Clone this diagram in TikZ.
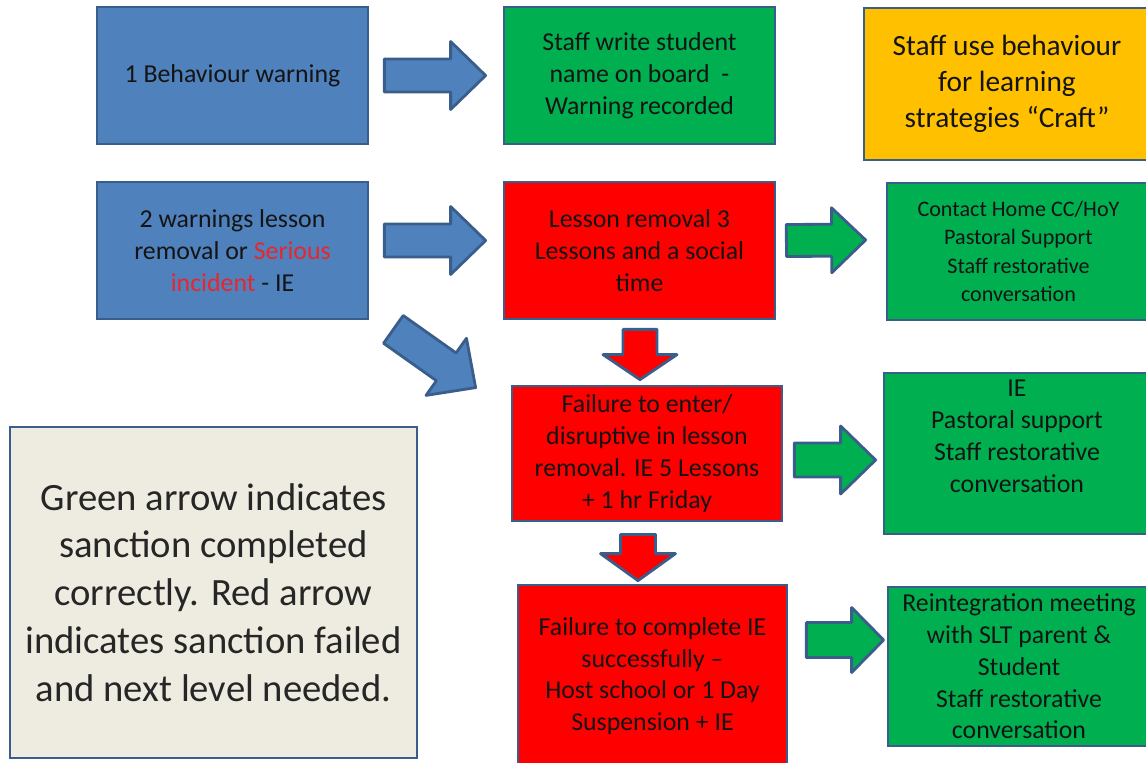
\documentclass[tikz,border=0pt]{standalone}
\usepackage{fontspec}
\setmainfont{Carlito}
\usetikzlibrary{calc}

\definecolor{edgeblue}{HTML}{3A5E8C}
\definecolor{fillblue}{HTML}{4F81BD}
\definecolor{fillgreen}{HTML}{00B050}
\definecolor{fillred}{HTML}{FF0000}
\definecolor{fillyellow}{HTML}{FFC000}
\definecolor{fillstone}{HTML}{EEECE1}
\definecolor{ink}{HTML}{141414}
\definecolor{alert}{HTML}{E8262C}

% block arrow: style, tail, tip, half shaft, half head, head length
\newcommand{\blockarrow}[6]{%
  \coordinate (hb) at ($(#3)!#6!(#2)$);
  \draw[#1] ($(#2)!#4!90:(#3)$) -- ($(hb)!#4!90:(#3)$) -- ($(hb)!#5!90:(#3)$) -- (#3)
    -- ($(hb)!#5!-90:(#3)$) -- ($(hb)!#4!-90:(#3)$) -- ($(#2)!#4!-90:(#3)$) -- cycle;
}

\begin{document}
\begin{tikzpicture}[x=0.02cm, y=-0.02cm,
  box/.style={draw=edgeblue, line width=1.6pt, align=center, inner sep=1pt, text=ink,
    font=\fontsize{14.7}{18.1}\selectfont},
  bluebox/.style={box, fill=fillblue},
  greenbox/.style={box, fill=fillgreen},
  redbox/.style={box, fill=fillred},
  arr/.style={draw=edgeblue, line width=1.6pt, line join=round}]
\useasboundingbox (0,0) rectangle (1146,762);

\node[bluebox, minimum width=5.42cm, minimum height=2.74cm] (warn1) at (232.5,75.5) {1 Behaviour warning};
\node[greenbox, minimum width=5.42cm, minimum height=2.74cm] (board) at (639.5,75.5) {Staff write student\\name on board\ \ -\\Warning recorded};
\node[box, fill=fillyellow, minimum width=5.72cm, minimum height=3.04cm,
  font=\fontsize{16.7}{20.4}\selectfont] (craft) at (1007,84) {Staff use behaviour\\for learning\\strategies “Craft”};

\node[bluebox, minimum width=5.42cm, minimum height=2.74cm] (warn2) at (232.5,250.5) {2 warnings lesson\\removal or \textcolor{alert}{Serious}\\\textcolor{alert}{incident} - IE};
\node[redbox, minimum width=5.42cm, minimum height=2.74cm] (removal) at (639.5,250.5) {Lesson removal 3\\Lessons and a social\\time};
\node[greenbox, minimum width=5.26cm, minimum height=2.74cm,
  font=\fontsize{12.6}{16.2}\selectfont] (contact) at (1018.5,251.5) {Contact Home CC/HoY\\Pastoral Support\\Staff restorative\\conversation};

\node[redbox, minimum width=5.4cm, minimum height=2.7cm] (enter) at (647,453.5) {Failure to enter/\\disruptive in lesson\\removal. IE 5 Lessons\\+ 1 hr Friday};
\node[greenbox, minimum width=5.32cm, minimum height=3.22cm, text depth=0.7cm] (support) at (1017,453.5) {IE\\Pastoral support\\Staff restorative\\conversation};

\node[redbox, minimum width=5.38cm, minimum height=3.64cm] (suspend) at (652.5,676) {Failure to complete IE\\successfully –\\Host school or 1 Day\\Suspension + IE};
\node[greenbox, minimum width=5.24cm, minimum height=3.18cm] (meeting) at (1019,666.5) {Reintegration meeting\\with SLT parent \&\\Student\\Staff restorative\\conversation};

\node[box, fill=fillstone, text=black!85, minimum width=8.14cm, minimum height=6.62cm,
  font=\fontsize{22}{27.2}\selectfont] (key) at (213.5,592.5) {Green arrow indicates\\sanction completed\\correctly. Red arrow\\indicates sanction failed\\and next level needed.};

\coordinate (t1) at ($(warn1.east)+(15,0)$);
\coordinate (h1) at ($(board.west)+(-17,0)$);
\coordinate (t2) at ($(warn2.east)+(15,-10)$);
\coordinate (h2) at ($(removal.west)+(-17,-10)$);
\coordinate (t3) at ($(warn2.south east)+(24,9)$);
\coordinate (h3) at ($(enter.north west)+(-35,3)$);
\coordinate (t4) at ($(removal.east)+(10,-10)$);
\coordinate (h4) at ($(contact.west)+(-20,-11.5)$);
\coordinate (t5) at ($(removal.south)+(0.5,9)$);
\coordinate (h5) at ($(enter.north)+(-7,-5)$);
\coordinate (t6) at ($(enter.east)+(11,6.5)$);
\coordinate (h6) at ($(support.west)+(-7,6.5)$);
\coordinate (t7) at ($(enter.south)+(-9,12)$);
\coordinate (h7) at ($(suspend.north)+(-14.5,-3)$);
\coordinate (t8) at ($(suspend.east)+(18,-36)$);
\coordinate (h8) at ($(meeting.west)+(-3,-26.5)$);

\blockarrow{arr, fill=fillblue}{t1}{h1}{0.33cm}{0.68cm}{0.7cm}
\blockarrow{arr, fill=fillblue}{t2}{h2}{0.33cm}{0.68cm}{0.7cm}
\blockarrow{arr, fill=fillblue}{t3}{h3}{0.34cm}{0.7cm}{0.72cm}
\blockarrow{arr, fill=fillgreen}{t4}{h4}{0.32cm}{0.65cm}{0.68cm}
\blockarrow{arr, fill=fillred}{t5}{h5}{0.34cm}{0.74cm}{0.5cm}
\blockarrow{arr, fill=fillgreen}{t6}{h6}{0.34cm}{0.68cm}{0.7cm}
\blockarrow{arr, fill=fillred}{t7}{h7}{0.35cm}{0.75cm}{0.54cm}
\blockarrow{arr, fill=fillgreen}{t8}{h8}{0.35cm}{0.65cm}{0.64cm}
\end{tikzpicture}
\end{document}
